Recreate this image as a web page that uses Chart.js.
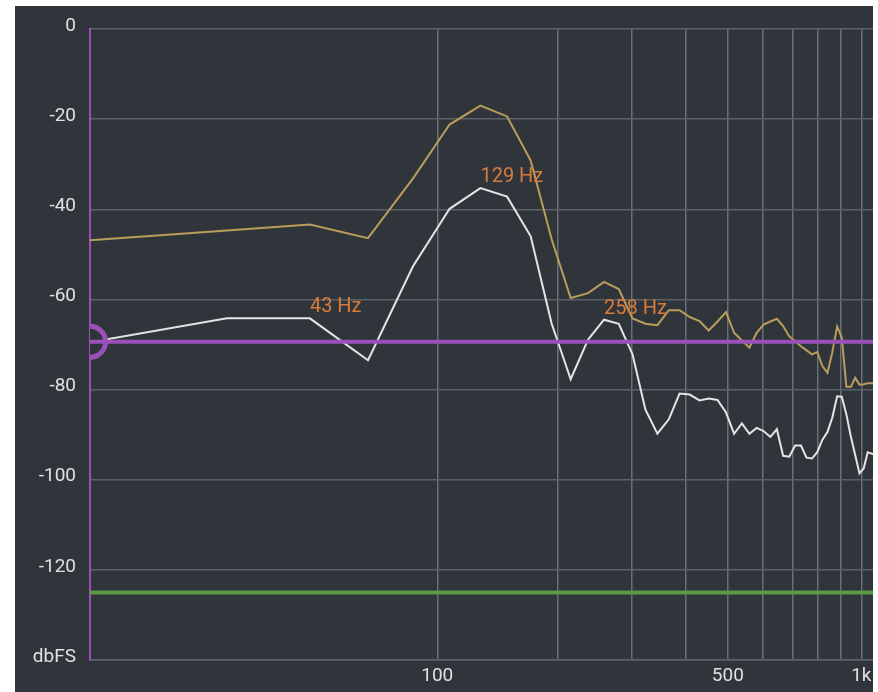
<!DOCTYPE html>
<html>
<head>
<meta charset="utf-8">
<script src="https://cdn.jsdelivr.net/npm/chart.js@4.4.1/dist/chart.umd.min.js"></script>
<style>
  html, body { margin: 0; padding: 0; background: #ffffff; }
  #spec { position: absolute; left: 15px; top: 6px; background: #30353c; }
</style>
</head>
<body>
<canvas id="spec" width="858" height="686"></canvas>
<script>
// FFT bin centres (Hz)
const binHz = [0, 21.5, 43.1, 64.6, 86.1, 107.7, 129.2, 150.7, 172.3, 193.8,
  215.3, 236.9, 258.4, 279.9, 301.5, 323.0, 344.5, 366.1, 387.6, 409.1,
  430.7, 452.2, 473.7, 495.3, 516.8, 538.3, 559.9, 581.4, 602.9, 624.5,
  646.0, 667.5, 689.1, 710.6, 732.1, 753.7, 775.2, 796.7, 818.3, 839.8,
  861.3, 882.9, 904.4, 925.9, 947.5, 969.0, 990.5, 1012.1, 1033.6, 1055.1, 1076.7];

// peak hold (gold)
const peakDb = [-47.0, -44.7, -43.4, -46.4, -33.2, -21.2, -17.0, -19.4, -29.2, -46.7,
  -59.7, -58.6, -56.1, -57.7, -64.2, -65.4, -65.7, -62.4, -62.4, -63.9,
  -64.8, -66.9, -64.9, -62.8, -67.4, -69.1, -70.7, -67.4, -65.6, -64.9,
  -64.3, -65.9, -68.2, -69.3, -70.4, -71.3, -72.2, -71.7, -74.8, -76.3,
  -71.7, -66.0, -68.5, -79.4, -79.4, -77.4, -78.9, -78.8, -78.6, -78.6, -78.6];

// current level (white)
const levelDb = [-69.8, -64.2, -64.2, -73.5, -52.7, -39.9, -35.3, -37.2, -46.0, -65.4,
  -77.7, -68.9, -64.5, -65.4, -72.2, -84.4, -89.8, -86.6, -80.9, -81.1,
  -82.4, -82.0, -82.3, -85.1, -89.8, -87.5, -89.8, -88.5, -89.2, -90.5,
  -88.8, -94.7, -94.9, -92.4, -92.4, -95.1, -95.3, -93.9, -91.1, -89.4,
  -86.2, -81.5, -81.6, -85.5, -90.4, -94.5, -98.6, -97.5, -93.9, -94.2, -94.6];

// marked peaks
const peakHz = [43.1, 129.2, 258.4];
const peakText = ['43 Hz', '129 Hz', '258 Hz'];

// reference levels
const thresholdDb = -69.4;
const noiseFloorDb = -125;

// axes
const xTickHz = [100, 200, 300, 400, 500, 600, 700, 800, 900, 1000];
const xTickText = ['100', '', '', '', '500', '', '', '', '', '1k'];
const yTicks = [0, -20, -40, -60, -80, -100, -120, -140];
const yTickText = ['0', '-20', '-40', '-60', '-80', '-100', '-120', 'dbFS'];
const xMinHz = 0.8, xMaxHz = 1062;

// the frequency axis is log(f + 20)
const fx = f => Math.log10(f + 20);

const toPts = ys => binHz.map((f, i) => ({x: fx(f), y: ys[i]}));
const hline = v => [{x: fx(xMinHz), y: v}, {x: fx(xMaxHz), y: v}];

const purple = '#9b4fb8';

const peakLabels = {
  id: 'peakLabels',
  afterDatasetsDraw(chart) {
    const {ctx, scales: {x, y}} = chart;
    ctx.save();
    ctx.font = '20px Roboto';
    ctx.fillStyle = '#d97a38';
    ctx.textAlign = 'left';
    ctx.textBaseline = 'alphabetic';
    peakHz.forEach((f, i) => {
      const idx = binHz.indexOf(f);
      const px = x.getPixelForValue(fx(f));
      const py = y.getPixelForValue(levelDb[idx]);
      ctx.fillText(peakText[i], px, py - 6);
    });
    ctx.restore();
  }
};

new Chart(document.getElementById('spec'), {
  type: 'line',
  data: {
    datasets: [
      { data: hline(thresholdDb), borderColor: purple, borderWidth: 4, pointRadius: 0, clip: 0, order: 0 },
      { data: [{x: fx(xMinHz), y: thresholdDb}], showLine: false, pointRadius: 15.5,
        pointBorderWidth: 5, pointBorderColor: purple, pointBackgroundColor: '#30353c', clip: 0, order: 1 },
      { data: toPts(levelDb), borderColor: '#e4e4e4', borderWidth: 2, pointRadius: 0, clip: 0, order: 2 },
      { data: toPts(peakDb), borderColor: '#bb9c5a', borderWidth: 2, pointRadius: 0, clip: 0, order: 3 },
      { data: hline(noiseFloorDb), borderColor: '#5b9a43', borderWidth: 4, pointRadius: 0, clip: 0, order: 4 }
    ]
  },
  options: {
    responsive: false,
    devicePixelRatio: 1,
    animation: false,
    layout: { autoPadding: false, padding: { top: 23, left: 0, right: 0, bottom: 0 } },
    plugins: { legend: { display: false }, tooltip: { enabled: false } },
    scales: {
      x: {
        type: 'linear',
        min: fx(xMinHz),
        max: fx(xMaxHz),
        afterBuildTicks: s => { s.ticks = xTickHz.map(f => ({value: fx(f)})); },
        afterFit: s => { s.height = 32; s.paddingLeft = 0; s.paddingRight = 0; },
        grid: { color: '#6a6f77', lineWidth: 1.5, drawTicks: false },
        border: { color: '#5c6168', width: 1.5 },
        ticks: {
          autoSkip: false, maxRotation: 0, padding: 5,
          color: '#e0e0e0', font: { family: 'Roboto', size: 19 },
          callback: (v, i) => xTickText[i]
        }
      },
      y: {
        min: -140,
        max: 0,
        afterBuildTicks: s => { s.ticks = yTicks.map(v => ({value: v})); },
        afterFit: s => { s.width = 75; s.paddingTop = 0; s.paddingBottom = 0; },
        grid: { color: '#5c6168', lineWidth: 1.5, drawTicks: false },
        border: { color: purple, width: 2 },
        ticks: {
          padding: 14, labelOffset: -3,
          color: '#e0e0e0', font: { family: 'Roboto', size: 19 },
          callback: (v, i) => yTickText[i]
        }
      }
    }
  },
  plugins: [peakLabels]
});
</script>
</body>
</html>
